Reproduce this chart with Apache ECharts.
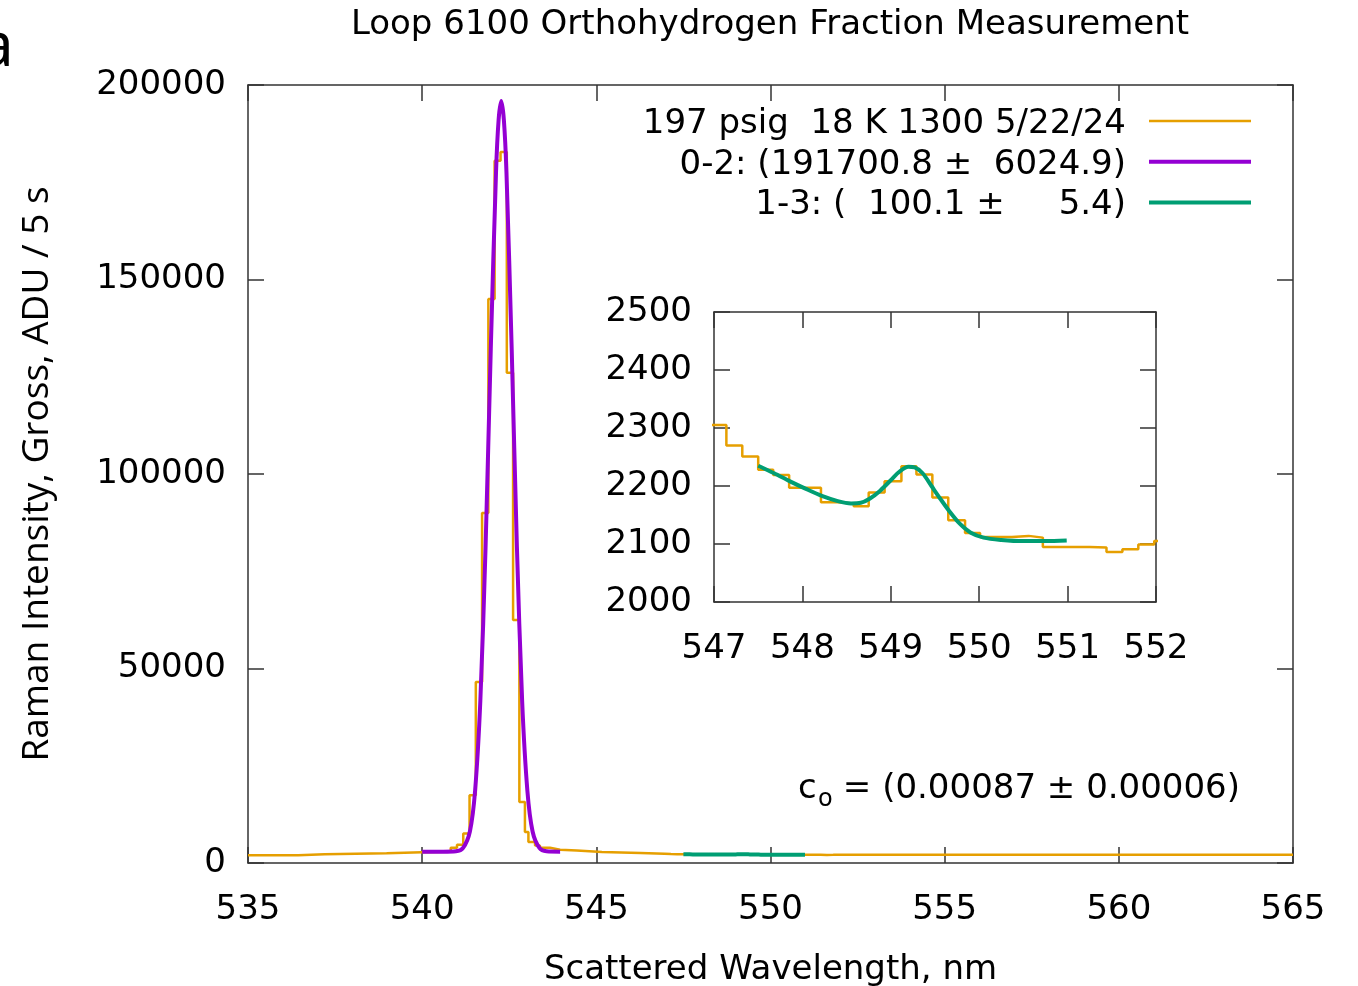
<!DOCTYPE html>
<html>
<head>
<meta charset="utf-8">
<script src="https://cdn.jsdelivr.net/npm/echarts@6/dist/echarts.min.js"></script>
<style>
  html, body { margin: 0; padding: 0; background: #fff; }
  #main { width: 1358px; height: 986px; }
</style>
</head>
<body>
<div id="main"></div>
<script>
// measured spectrum (step histogram), x = bin start in nm
const orangeX = [535.00, 536.44, 537.20, 538.98, 540.00, 540.82, 541.00, 541.18, 541.36, 541.54,
  541.72, 541.90, 542.08, 542.25, 542.43, 542.61, 542.79, 542.95, 543.05, 543.24,
  543.38, 543.67, 543.96, 544.44, 545.16, 546.27, 546.96, 547.14, 547.32, 547.50,
  547.67, 547.85, 548.03, 548.21, 548.40, 548.58, 548.75, 548.93, 549.12, 549.29,
  549.47, 549.65, 549.84, 550.01, 550.19, 550.37, 550.56, 550.72, 550.90, 551.08,
  551.25, 551.44, 551.62, 551.80, 551.98, 565.00];
const orangeY = [2000, 2250, 2500, 2750, 2900, 3900, 4700, 7600, 17400, 46500,
  90000, 145000, 180500, 182800, 126000, 62500, 15700, 8000, 5400, 4500,
  3900, 3400, 3200, 2850, 2600, 2400, 2305, 2270, 2251, 2228,
  2219, 2197, 2197, 2172, 2170, 2165, 2189, 2208, 2234, 2220,
  2180, 2141, 2119, 2112, 2112, 2114, 2111, 2095, 2095, 2095,
  2094, 2086, 2091, 2099, 2105, 2105];

// 0-2 line fit
const purpleX = [540.00, 540.60, 540.97, 541.17, 541.37, 541.52, 541.67, 541.82, 541.97, 542.12,
  542.195, 542.27, 542.345, 542.42, 542.57, 542.72, 542.87, 543.02, 543.17, 543.37, 543.57, 543.96];
const purpleY = [2900, 2900, 3000, 3800, 8100, 18600, 41700, 81200, 132200, 177500,
  191100, 195900, 191100, 177500, 132200, 81200, 41700, 18600, 8100, 3800, 3000, 2900];

// 1-3 line fit
const greenX = [547.50, 547.68, 547.86, 548.04, 548.22, 548.40, 548.55, 548.66, 548.76, 548.88,
  549.00, 549.10, 549.20, 549.27, 549.36, 549.46, 549.56, 549.66, 549.78, 549.90,
  550.05, 550.25, 550.50, 550.75, 550.99];
const greenY = [2235, 2222, 2208, 2195, 2183, 2174, 2170, 2171, 2178, 2192,
  2210, 2225, 2233, 2232, 2222, 2200, 2178, 2157, 2135, 2120,
  2111, 2107, 2105, 2105, 2106];

const legendNames = ['197 psig  18 K 1300 5/22/24', '0-2: (191700.8 \u00b1  6024.9)', '1-3: (  100.1 \u00b1     5.4)'];
const colors = ['#e69f00', '#9400d3', '#009e73'];

const zip = (xs, ys) => xs.map((x, i) => [x, ys[i]]);
const FONT = 'DejaVu Sans';
const FS = 34;
const axisColor = '#333';

function xAx(grid, pos, min, max, interval, labels, extra) {
  return Object.assign({
    gridIndex: grid, type: 'value', position: pos, min, max, interval,
    axisLine: { show: true, onZero: false, lineStyle: { color: axisColor, width: 1.5 } },
    axisTick: { show: true, inside: true, length: 16, lineStyle: { color: axisColor, width: 1.5 } },
    axisLabel: { show: labels, fontFamily: FONT, fontSize: FS, color: '#000', margin: 30, formatter: v => String(v) },
    splitLine: { show: false }
  }, extra || {});
}
function yAx(grid, pos, min, max, interval, labels, extra) {
  return Object.assign({
    gridIndex: grid, type: 'value', position: pos, min, max, interval,
    axisLine: { show: true, onZero: false, lineStyle: { color: axisColor, width: 1.5 } },
    axisTick: { show: true, inside: true, length: 16, lineStyle: { color: axisColor, width: 1.5 } },
    axisLabel: { show: labels, fontFamily: FONT, fontSize: FS, color: '#000', margin: 22,
      padding: [6, 0, 0, 0], formatter: v => String(v) },
    splitLine: { show: false }
  }, extra || {});
}

const chart = echarts.init(document.getElementById('main'));

const legendGraphics = [];
legendNames.forEach((name, i) => {
  const y = 121 + i * 40.8;
  legendGraphics.push({
    type: 'text', x: 1126, y: y + 3,
    style: { text: name, fontFamily: FONT, fontSize: FS, fill: '#000', align: 'right', verticalAlign: 'middle' }
  });
  legendGraphics.push({
    type: 'line', shape: { x1: 1149, y1: y, x2: 1251, y2: y },
    style: { stroke: colors[i], lineWidth: i === 0 ? 2.5 : 4 }
  });
});

chart.setOption({
  animation: false,
  backgroundColor: '#fff',
  grid: [
    { left: 248, top: 85, width: 1045, height: 778, show: false, outerBoundsMode: 'none', containLabel: false },
    { left: 714, top: 312, width: 442, height: 290, show: false, outerBoundsMode: 'none', containLabel: false }
  ],
  xAxis: [
    xAx(0, 'bottom', 535, 565, 5, true, {
      name: 'Scattered Wavelength, nm', nameLocation: 'middle', nameGap: 90,
      nameTextStyle: { fontFamily: FONT, fontSize: FS, color: '#000' }
    }),
    xAx(0, 'top', 535, 565, 5, false),
    xAx(1, 'bottom', 547, 552, 1, true),
    xAx(1, 'top', 547, 552, 1, false)
  ],
  yAxis: [
    yAx(0, 'left', 0, 200000, 50000, true, {
      name: 'Raman Intensity, Gross, ADU / 5 s', nameLocation: 'middle', nameGap: 192, nameRotate: 90,
      nameTextStyle: { fontFamily: 'Open Sans', fontSize: 37, color: '#000' }
    }),
    yAx(0, 'right', 0, 200000, 50000, false),
    yAx(1, 'left', 2000, 2500, 100, true),
    yAx(1, 'right', 2000, 2500, 100, false)
  ],
  series: [
    { name: legendNames[0], type: 'line', xAxisIndex: 0, yAxisIndex: 0, step: 'end', showSymbol: false,
      data: zip(orangeX, orangeY), lineStyle: { color: colors[0], width: 2.5 }, z: 2 },
    { name: legendNames[1], type: 'line', xAxisIndex: 0, yAxisIndex: 0, smooth: 0.3, showSymbol: false,
      data: zip(purpleX, purpleY), lineStyle: { color: colors[1], width: 4 }, z: 3 },
    { name: legendNames[2], type: 'line', xAxisIndex: 0, yAxisIndex: 0, smooth: 0.3, showSymbol: false,
      data: zip(greenX, greenY), lineStyle: { color: colors[2], width: 4 }, z: 3 },
    { type: 'line', xAxisIndex: 2, yAxisIndex: 2, step: 'end', showSymbol: false, clip: true,
      data: zip(orangeX, orangeY), lineStyle: { color: colors[0], width: 2.5 }, z: 2 },
    { type: 'line', xAxisIndex: 2, yAxisIndex: 2, smooth: 0.3, showSymbol: false, clip: true,
      data: zip(greenX, greenY), lineStyle: { color: colors[2], width: 4 }, z: 3 }
  ],
  graphic: [
    { type: 'text', x: 770, y: 25,
      style: { text: 'Loop 6100 Orthohydrogen Fraction Measurement', fontFamily: FONT, fontSize: FS, fill: '#000', align: 'center', verticalAlign: 'middle' } },
    { type: 'text', x: -21, y: 48,
      style: { text: 'a', fontFamily: 'Noto Sans', fontSize: 62, fill: '#000', align: 'left', verticalAlign: 'middle' } },
    { type: 'text', x: 798, y: 789,
      style: { text: 'c', fontFamily: FONT, fontSize: FS, fill: '#000', align: 'left', verticalAlign: 'middle' } },
    { type: 'text', x: 818, y: 800,
      style: { text: 'o', fontFamily: FONT, fontSize: 24, fill: '#000', align: 'left', verticalAlign: 'middle' } },
    { type: 'text', x: 1240, y: 789,
      style: { text: '= (0.00087 \u00b1 0.00006)', fontFamily: FONT, fontSize: FS, fill: '#000', align: 'right', verticalAlign: 'middle' } }
  ].concat(legendGraphics)
});
</script>
</body>
</html>
